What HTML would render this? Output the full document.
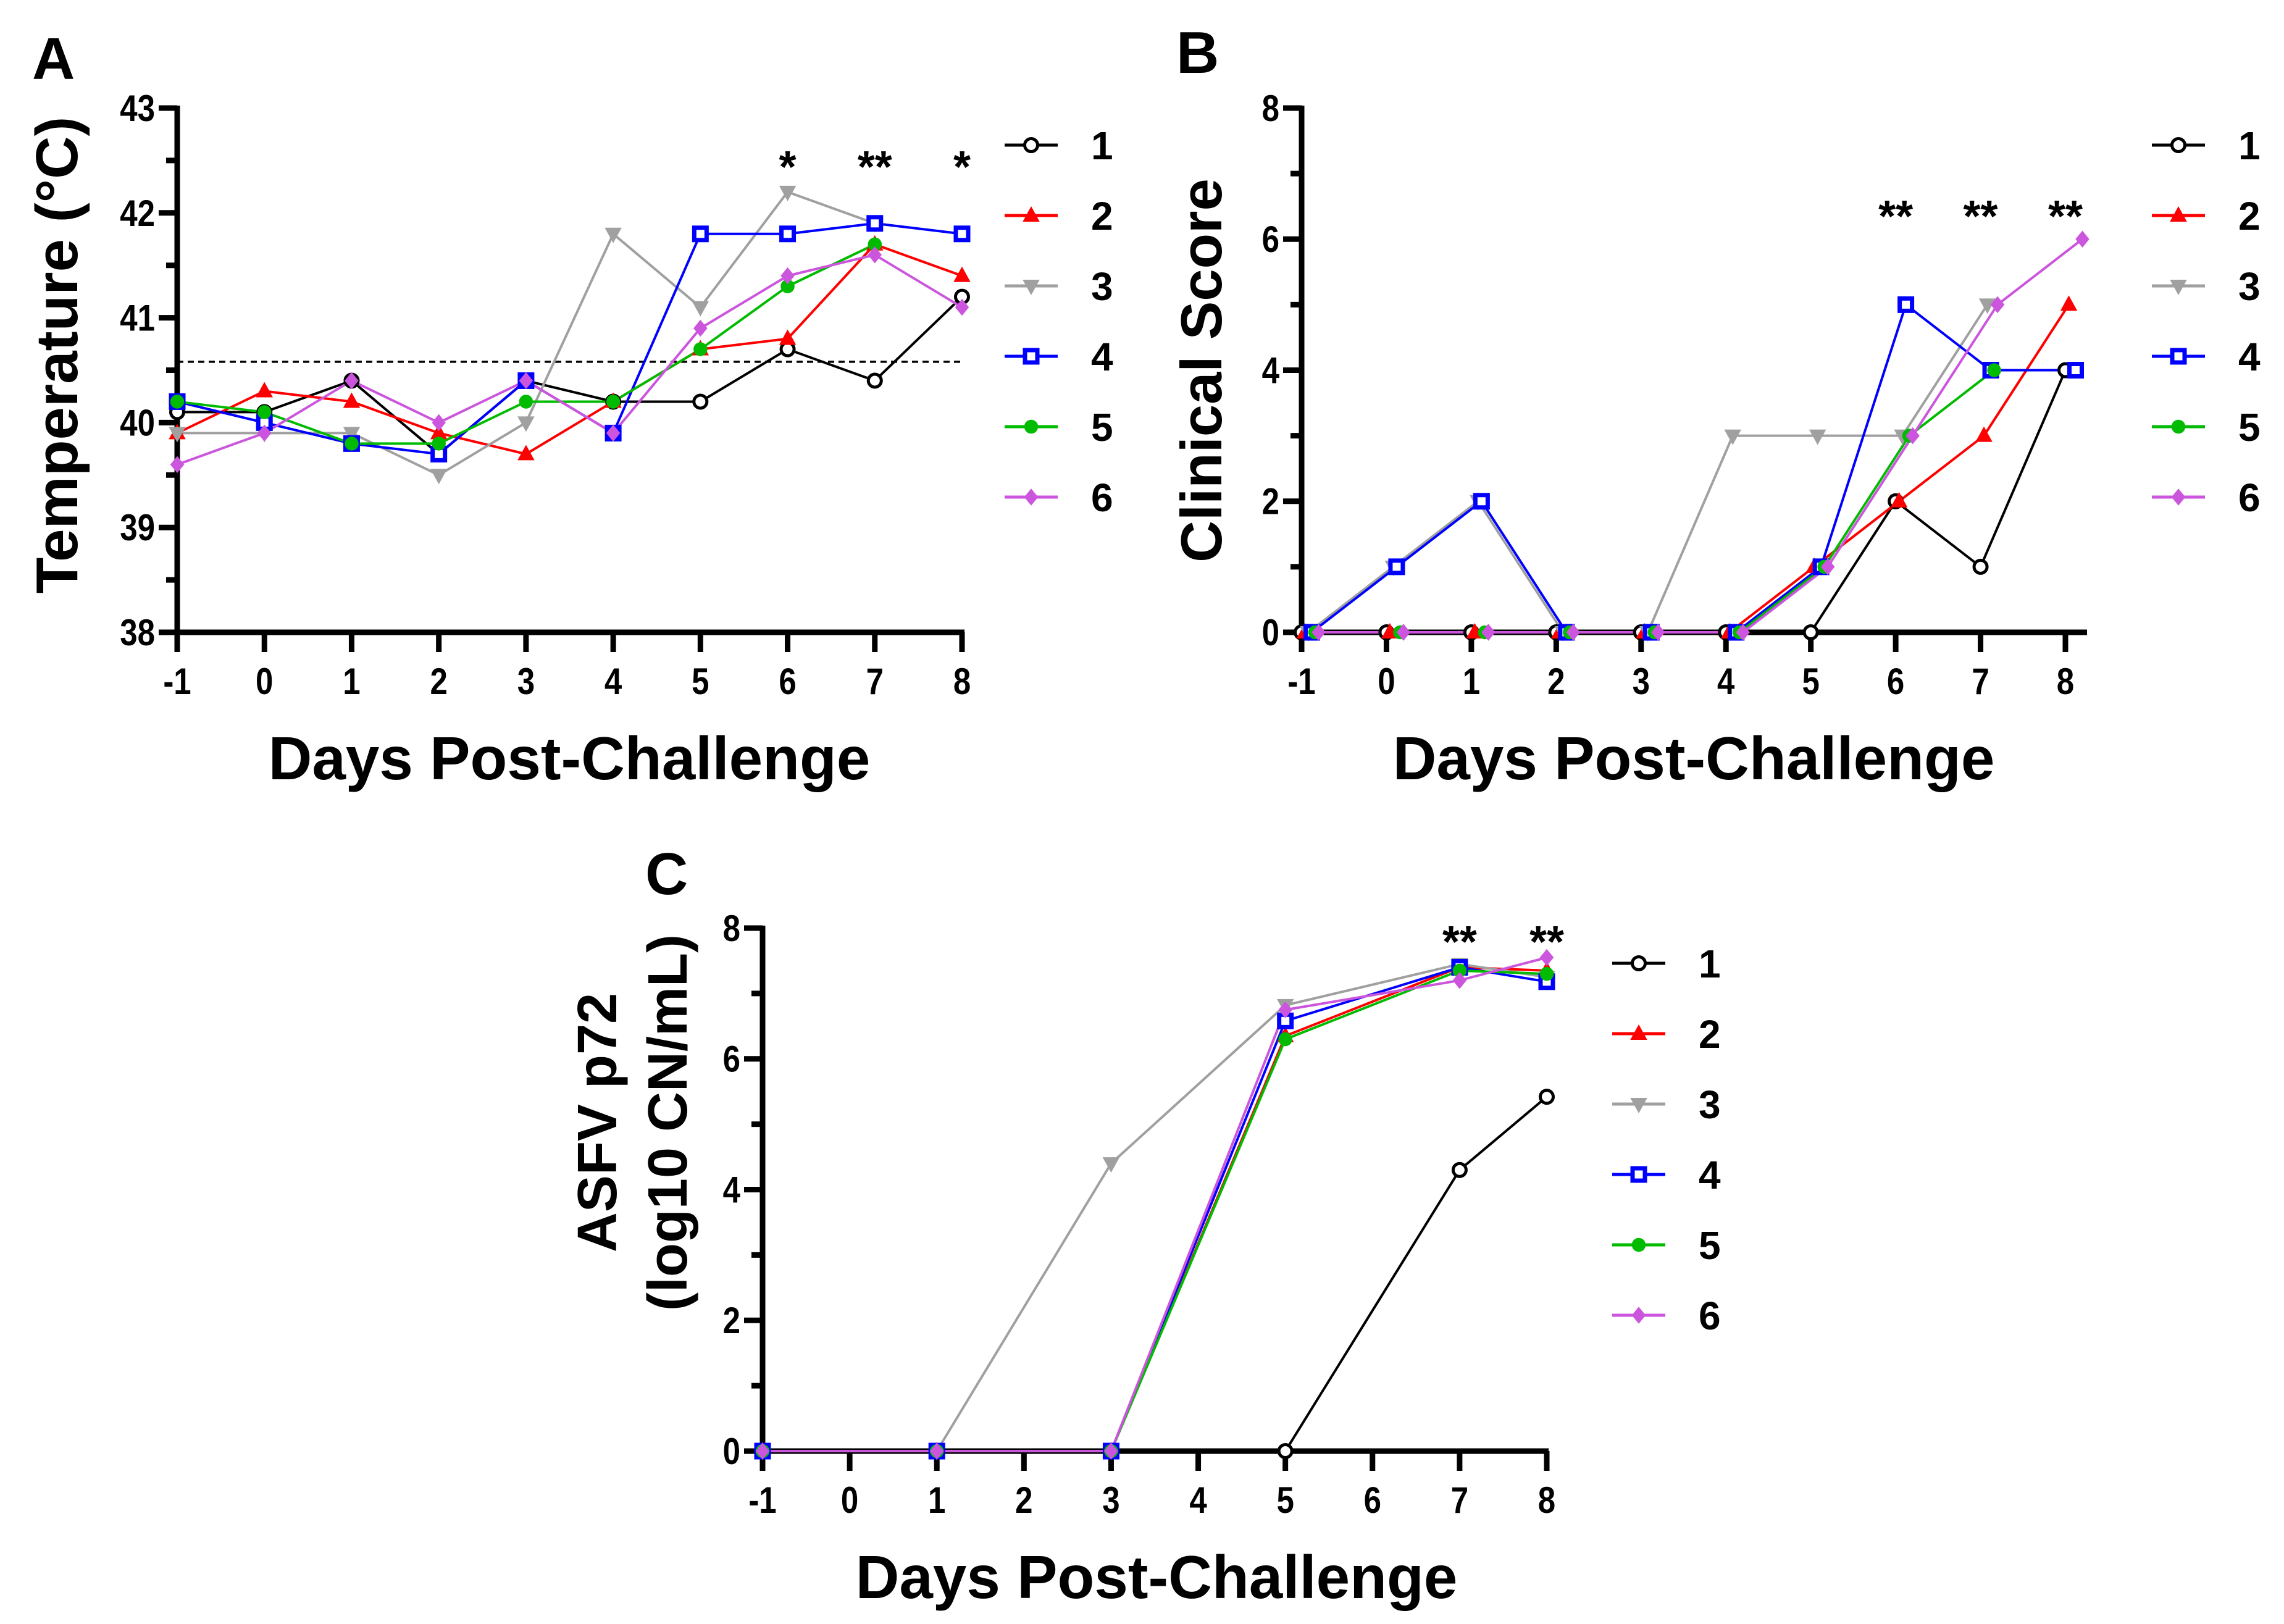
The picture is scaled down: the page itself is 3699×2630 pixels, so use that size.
<!DOCTYPE html>
<html><head><meta charset="utf-8">
<style>
html,body{margin:0;padding:0;background:#fff;}
svg{display:block;font-family:"Liberation Sans",Arial,sans-serif;font-weight:bold;}
</style></head>
<body>
<svg id="fig" width="3699" height="2630" viewBox="0 0 3699 2630" xmlns="http://www.w3.org/2000/svg">
<rect width="3699" height="2630" fill="#fff"/>
</svg>
<script>
// ---------- data ----------
const seriesNames = ['1','2','3','4','5','6'];
const seriesColors = ['#000000','#ff0000','#a0a0a0','#0000ff','#00bb00','#cc55dd'];
const daysA = [-1,0,1,2,3,4,5,6,7,8];
const tempS1 = [40.1,40.1,40.4,39.7,40.4,40.2,40.2,40.7,40.4,41.2];
const tempS2 = [39.9,40.3,40.2,39.9,39.7,40.2,40.7,40.8,41.7,41.4];
const tempS3 = [39.9,39.9,39.9,39.5,40.0,41.8,41.1,42.2,41.9];
const tempS4 = [40.2,40.0,39.8,39.7,40.4,39.9,41.8,41.8,41.9,41.8];
const tempS5 = [40.2,40.1,39.8,39.8,40.2,40.2,40.7,41.3,41.7];
const tempS6 = [39.6,39.9,40.4,40.0,40.4,39.9,40.9,41.4,41.6,41.1];
const tempThreshold = 40.58;
const tempTicks = [38,39,40,41,42,43];
const scoreS1 = [0,0,0,0,0,0,0,2,1,4];
const scoreS2 = [0,0,0,0,0,0,1,2,3,5];
const scoreS3 = [0,1,2,0,0,3,3,3,5];
const scoreS4 = [0,1,2,0,0,0,1,5,4,4];
const scoreS5 = [0,0,0,0,0,0,1,3,4];
const scoreS6 = [0,0,0,0,0,0,1,3,5,6];
const scoreTicks = [0,2,4,6,8];
const daysC = [-1,1,3,5,7,8];
const dayTicks = [-1,0,1,2,3,4,5,6,7,8];
const virusS1 = [0,0,0,0,4.3,5.42];
const virusS2 = [0,0,0,6.35,7.4,7.35];
const virusS3 = [0,0,4.4,6.82,7.45,7.25];
const virusS4 = [0,0,0,6.58,7.4,7.18];
const virusS5 = [0,0,0,6.3,7.35,7.3];
const virusS6 = [0,0,0,6.75,7.2,7.55];
const virusTicks = [0,2,4,6,8];
const starsA = [[6,'*'],[7,'**'],[8,'*']];
const starsB = [[6,'**'],[7,'**'],[8,'**']];
const starsC = [[7,'**'],[8,'**']];

const NS='http://www.w3.org/2000/svg';
const svg=document.getElementById('fig');
function el(tag,attrs,parent,text){const e=document.createElementNS(NS,tag);for(const k in attrs)e.setAttribute(k,attrs[k]);if(text!==undefined)e.textContent=text;(parent||svg).appendChild(e);return e;}

function marker(g,i,x,y,s){
  const c=seriesColors[i];let m;
  if(i===0){m=el('circle',{cx:x,cy:y,r:s*0.42,fill:'#fff',stroke:c,'stroke-width':5},g);}
  else if(i===1){m=el('polygon',{points:`${x},${y-s*0.6} ${x+s*0.55},${y+s*0.4} ${x-s*0.55},${y+s*0.4}`,fill:c},g);}
  else if(i===2){m=el('polygon',{points:`${x},${y+s*0.6} ${x+s*0.55},${y-s*0.4} ${x-s*0.55},${y-s*0.4}`,fill:c},g);}
  else if(i===3){m=el('rect',{x:x-s*0.4,y:y-s*0.4,width:s*0.8,height:s*0.8,fill:'#fff',stroke:c,'stroke-width':7},g);}
  else if(i===4){m=el('circle',{cx:x,cy:y,r:s*0.45,fill:c},g);}
  else {m=el('polygon',{points:`${x},${y-s*0.55} ${x+s*0.45},${y} ${x},${y+s*0.55} ${x-s*0.45},${y}`,fill:c},g);}
  
  
}

function panel(o){
  const g=el('g',{});
  
  
  const sx=v=>o.x0+(v-o.xmin)/(o.xmax-o.xmin)*(o.x1-o.x0);
  const sy=v=>o.y0+(v-o.ymin)/(o.ymax-o.ymin)*(o.y1-o.y0);
  const L=el('text',{x:o.letter[0],y:o.letter[1],'font-size':96,fill:'#000'},g,o.letter[2]);
  
  const ya=el('line',{x1:o.x0,y1:sy(o.ymax)-4,x2:o.x0,y2:o.y0+4,stroke:'#000','stroke-width':9},g);
  
  const xa=el('line',{x1:o.x0-4,y1:o.y0,x2:o.xend,y2:o.y0,stroke:'#000','stroke-width':9},g);
  
  o.yticks.forEach(t=>{
    el('line',{x1:o.x0-30,y1:sy(t),x2:o.x0,y2:sy(t),stroke:'#000','stroke-width':9},g);
    const tl=el('text',{x:o.x0-36,y:sy(t)+21,'font-size':60,'text-anchor':'end',fill:'#000',transform:`translate(${(o.x0-36)*0.15},0) scale(0.85,1)`},g,String(t));
    
  });
  for(let k=0;k<o.yticks.length-1;k++){const m=(o.yticks[k]+o.yticks[k+1])/2;
    el('line',{x1:o.x0-18,y1:sy(m),x2:o.x0,y2:sy(m),stroke:'#000','stroke-width':9},g);}
  dayTicks.forEach(t=>{
    el('line',{x1:sx(t),y1:o.y0,x2:sx(t),y2:o.y0+32,stroke:'#000','stroke-width':9},g);
    const tl=el('text',{x:sx(t),y:o.y0+100,'font-size':60,'text-anchor':'middle',fill:'#000',transform:`translate(${sx(t)*0.15},0) scale(0.85,1)`},g,String(t));
    
  });
  if(o.threshold!==undefined){
    const d=el('line',{x1:o.x0,y1:sy(o.threshold),x2:sx(8),y2:sy(o.threshold),stroke:'#000','stroke-width':3.5,'stroke-dasharray':'10,7'},g);
    
  }
  o.series.forEach((vals,i)=>{
    const off=(o.offsets?o.offsets[i]:0);
    const pts=vals.map((v,j)=>[sx(o.xs[j]+off),sy(v)]);
    const pl=el('polyline',{points:pts.map(p=>p.join(',')).join(' '),fill:'none',stroke:seriesColors[i],'stroke-width':4},g);
    
  });
  o.series.forEach((vals,i)=>{
    const off=(o.offsets?o.offsets[i]:0);
    vals.forEach((v,j)=>marker(g,i,sx(o.xs[j]+off),sy(v),25));
  });
  o.stars.forEach(s=>{
    const st=el('text',{x:sx(s[0]),y:o.starY,'font-size':72,'text-anchor':'middle',fill:'#000'},g,s[1]);
    
  });
  seriesNames.forEach((n,i)=>{
    const y=o.leg[1]+i*114;
    const lg=el('g',{},g);
    
    el('line',{x1:o.leg[0],y1:y,x2:o.leg[0]+86,y2:y,stroke:seriesColors[i],'stroke-width':5},lg);
    marker(lg,i,o.leg[0]+43,y,25);
    el('text',{x:o.leg[0]+140,y:y+23,'font-size':64,fill:'#000'},lg,n);
  });
  const xt=el('text',{x:o.xt[0],y:o.xt[1],'font-size':98,'text-anchor':'middle',fill:'#000'},g,'Days Post-Challenge');
  
  o.yt.forEach(t=>{
    const yt=el('text',{x:0,y:0,'font-size':t[3],'text-anchor':'middle',fill:'#000',transform:`translate(${t[0]},${t[1]}) rotate(-90)`},g,t[2]);
    yt.setAttribute('xml:space','preserve');
    
  });
}

panel({name:'panel-a-temperature',x0:287,x1:1558,xend:1562,xmin:-1,xmax:8,y0:1024,y1:175,ymin:38,ymax:43,
  xs:daysA,series:[tempS1,tempS2,tempS3,tempS4,tempS5,tempS6],yticks:tempTicks,threshold:tempThreshold,
  stars:starsA,starY:295,leg:[1627,235],letter:[52,128,'A'],xt:[922,1262],yt:[[125,575,'Temperature  (°C)',96]]});
panel({name:'panel-b-clinical-score',x0:2108,x1:3345,xend:3380,xmin:-1,xmax:8,y0:1024,y1:175,ymin:0,ymax:8,
  xs:daysA,series:[scoreS1,scoreS2,scoreS3,scoreS4,scoreS5,scoreS6],yticks:scoreTicks,offsets:[0,0.04,0.08,0.12,0.16,0.2],
  stars:starsB,starY:375,leg:[3485,235],letter:[1905,118,'B'],xt:[2743,1262],yt:[[1978,600,'Clinical  Score',94]]});
panel({name:'panel-c-asfv-p72',x0:1235,x1:2505,xend:2508,xmin:-1,xmax:8,y0:2350,y1:1503,ymin:0,ymax:8,
  xs:daysC,series:[virusS1,virusS2,virusS3,virusS4,virusS5,virusS6],yticks:virusTicks,
  stars:starsC,starY:1550,leg:[2611,1560],letter:[1045,1448,'C'],xt:[1873,2588],yt:[[998,1818,'ASFV p72',90],[1112,1818,'(log10  CN/mL)',90]]});
</script>
</body></html>
